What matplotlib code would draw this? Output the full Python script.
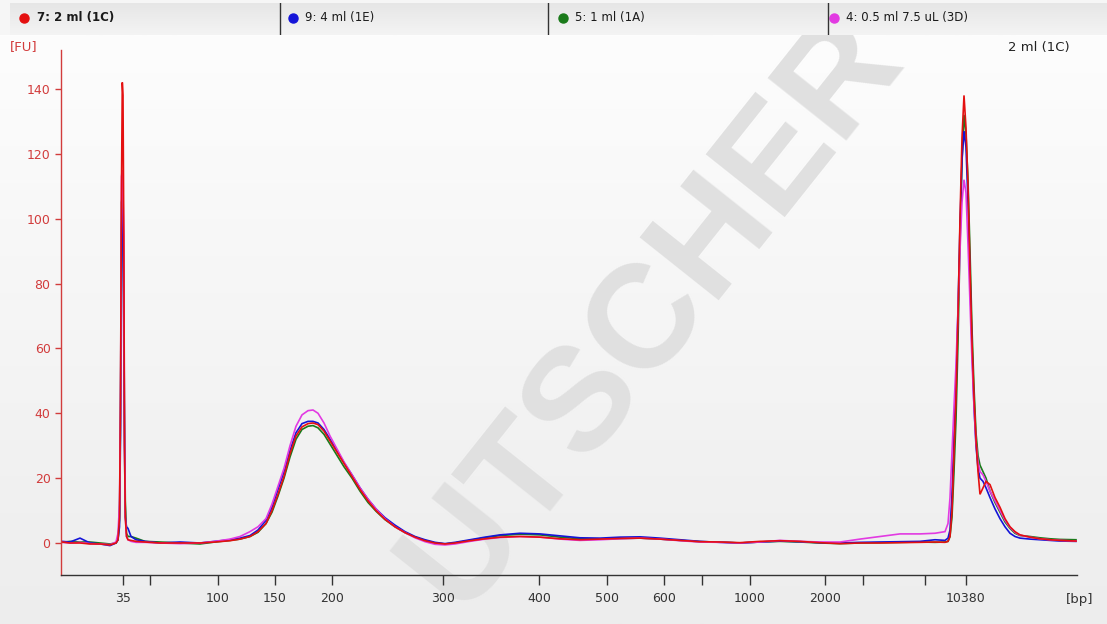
import numpy as np
import matplotlib
matplotlib.use("Agg")
import matplotlib.pyplot as plt
from matplotlib.colors import LinearSegmentedColormap

# ---------------- data ----------------
sample_names = ["7: 2 ml (1C)", "9: 4 ml (1E)", "5: 1 ml (1A)", "4: 0.5 ml 7.5 uL (3D)"]
sample_colors = ["#e41010", "#1414d8", "#1a7a1a", "#e23ae2"]

# ladder (bp) and its position on the migration axis
ladder_bp = [35, 50, 100, 150, 200, 300, 400, 500, 600, 700, 1000, 2000, 3000, 7000, 10380]
ladder_pos = [61.7, 89.3, 157.0, 214.0, 271.3, 382.3, 478.0, 546.3, 603.3, 640.7,
              688.7, 764.4, 802.0, 863.7, 904.5]
ladder_labels = ["35", "", "100", "150", "200", "300", "400", "500", "600", "",
                 "1000", "2000", "", "", "10380"]

# migration position of each sample point
migration = [1, 9, 19, 29, 39, 49, 55, 57, 58.5, 59.5, 60.5, 61.3, 62, 62.8, 63.5, 64.3,
             65.5, 67, 70, 75, 84, 99, 119, 139, 154, 169, 179, 189, 197, 205, 211, 217,
             223, 229, 235, 241, 247, 252, 257, 263, 269, 276, 283, 291, 299, 307, 315,
             324, 334, 344, 354, 364, 374, 384, 394, 409, 424, 439, 459, 479, 499, 519,
             539, 559, 579, 599, 619, 639, 659, 679, 699, 719, 739, 759, 779, 799, 819,
             839, 859, 874, 884, 887, 889, 891, 893, 895, 897, 899, 901, 903, 905, 907,
             909, 911, 913, 915, 917, 919, 922, 925, 929, 934, 939, 944, 949, 954, 959,
             969, 979, 989, 999, 1015]

fu_2ml_1C = [0.3, 0, 0, -0.3, -0.3, -0.6, 0, 1, 8, 45, 110, 142, 138, 95, 30, 8,
             2, 1, 0.8, 0.5, 0.3, 0, 0, 0, 0.3, 0.7, 1.2, 2, 3.5, 6, 10, 15,
             20.5, 27.5, 33, 35.8, 36.8, 37, 36.5, 34.5, 31.5, 28, 24.5, 20.5, 16.5, 13, 10,
             7.3, 5, 3.2, 1.8, 0.7, 0, -0.3, 0, 0.7, 1.3, 1.8, 2, 1.8, 1.3, 1.0,
             1.2, 1.4, 1.5, 1.2, 0.8, 0.4, 0.3, 0.1, 0.5, 0.7, 0.5, 0.1, -0.2, 0, 0,
             0.1, 0.2, 0.3, 0.2, 0.5, 2, 10, 28, 45, 70, 100, 125, 138, 128, 110,
             85, 62, 45, 32, 22, 15, 17, 19, 18, 14, 11, 7.5, 5, 3.5, 2.5,
             1.8, 1.3, 1, 0.8, 0.6]

fu_4ml_1E = [0.5, 0.3, 1.5, 0, -0.3, -0.8, 0, 1, 5, 33, 97, 103, 100, 60, 30, 8,
             5, 4.5, 2, 1, 0.5, 0, 0.3, 0, 0.5, 1, 1.5, 2.3, 4, 7, 11, 16.5,
             22, 28.5, 34, 36.8, 37.5, 37.5, 37, 35, 32, 28.5, 24.8, 21, 17, 13.5, 10.5,
             7.8, 5.5, 3.5, 2, 1, 0.2, -0.2, 0.2, 1, 1.8, 2.5, 3, 2.8, 2.2, 1.6,
             1.5, 1.8, 1.9, 1.5, 1, 0.5, 0.2, 0, 0.3, 0.6, 0.4, 0.1, 0, 0.2, 0.3,
             0.4, 0.5, 1, 0.8, 1.5, 4, 15, 33, 48, 72, 98, 118, 127, 122, 105,
             82, 60, 42, 30, 23, 20, 19, 17, 14, 10.5, 7.5, 5, 3, 2, 1.5,
             1.2, 1, 0.8, 0.6, 0.5]

fu_1ml_1A = [0.2, 0.5, 0.3, 0.3, 0, -0.3, 0, 1, 7, 40, 105, 107, 104, 70, 38, 13,
             3, 2, 2, 1.5, 0.5, 0.3, 0, -0.3, 0.3, 0.8, 1.2, 2, 3.3, 6, 9.5, 14.5,
             20, 26.5, 32, 35, 36, 36.2, 35.5, 33.5, 30.5, 27, 23.5, 20, 16, 12.5, 9.8,
             7.2, 5, 3.2, 1.8, 0.8, 0, -0.3, 0, 0.8, 1.6, 2.3, 2.7, 2.5, 1.8, 1.3,
             1.2, 1.4, 1.5, 1.2, 0.8, 0.4, 0.3, 0, 0.3, 0.5, 0.3, 0, -0.2, 0, 0.1,
             0.2, 0.3, 0.2, 0.3, 0.5, 2, 8, 22, 38, 62, 92, 118, 132, 126, 112,
             90, 66, 48, 34, 27, 24, 22, 20, 16, 12.5, 9.5, 6.5, 4.5, 3, 2.3,
             2, 1.6, 1.3, 1.1, 1]

fu_05ml_3D = [0.2, 0, 0.2, -0.2, -0.3, -0.5, 0.3, 3, 12, 40, 113, 115, 108, 95, 35, 8,
              2, 1, 0.5, 0.2, 0.2, 0, -0.2, 0, 0.5, 1.2, 2, 3.5, 5, 7.5, 12, 17.5,
              23, 30, 36, 39.5, 40.8, 41, 40, 37, 33, 29, 25, 21, 17, 13.5, 10.5,
              7.5, 5, 3.2, 1.6, 0.4, -0.4, -0.6, -0.3, 0.5, 1.2, 1.7, 2, 1.8, 1.2, 0.8,
              1, 1.3, 1.5, 1.2, 0.7, 0.3, 0.2, 0, 0.3, 0.8, 0.5, 0.3, 0.3, 1.2, 2,
              2.8, 2.8, 3, 3.5, 6, 14, 28, 42, 55, 72, 90, 105, 112, 108, 92,
              74, 56, 42, 31, 25, 22, 21, 19, 16, 13, 10, 7, 4.8, 3.3, 2.4,
              1.8, 1.3, 1, 0.8, 0.6]

series = [fu_2ml_1C, fu_4ml_1E, fu_1ml_1A, fu_05ml_3D]
draw_order = [2, 1, 3, 0]

y_ticks = [0, 20, 40, 60, 80, 100, 120, 140]

# ---------------- figure ----------------
W, H = 1107, 624
fig = plt.figure(figsize=(W / 100, H / 100), dpi=100)
fig.patch.set_facecolor("#f6f6f6")

# gradient panel behind the plot
ax_bg = fig.add_axes([0, 0, 1, (H - 35) / H], zorder=0)
grad = np.linspace(0, 1, 256).reshape(-1, 1)
cmap = LinearSegmentedColormap.from_list("bg", ["#ededed", "#fdfdfd"])
ax_bg.imshow(grad, aspect="auto", extent=[0, 1, 0, 1], origin="lower", cmap=cmap)
ax_bg.set_xlim(0, 1)
ax_bg.set_ylim(0, 1)
ax_bg.axis("off")
wm = ax_bg.text(652 / W, 1 - (312 - 35) / (H - 35), "UTSCHER", transform=ax_bg.transAxes,
                fontsize=106, fontweight="bold", family="Liberation Sans",
                color="#e0e0e0", rotation=51.5, rotation_mode="anchor",
                ha="center", va="center")
wm.set_clip_on(True)
wm.set_clip_box(ax_bg.bbox)

# main axes
ax = fig.add_axes([61 / W, (H - 575) / H, 1016 / W, 525 / H], zorder=1)
ax.patch.set_alpha(0)
for i in draw_order:
    ax.plot(migration, series[i], color=sample_colors[i], lw=1.2, solid_joinstyle="miter")

ax.set_xlim(0, 1016)
ax.set_ylim(-9.87, 152)
ax.set_xticks(ladder_pos)
ax.set_xticklabels(ladder_labels)
ax.set_yticks(y_ticks)
ax.set_yticklabels([str(v) for v in y_ticks])

red_axis = "#d23c3c"
for s in ["top", "right"]:
    ax.spines[s].set_visible(False)
ax.spines["left"].set_color(red_axis)
ax.spines["left"].set_linewidth(1.0)
ax.spines["bottom"].set_color("#333333")
ax.spines["bottom"].set_linewidth(1.0)
ax.tick_params(axis="x", direction="out", length=7.5, width=1, color="#333333",
               labelcolor="#333333", labelsize=9, pad=5)
ax.tick_params(axis="y", direction="out", length=4.5, width=1, color=red_axis,
               labelcolor=red_axis, labelsize=9, pad=3)

fig.text(10 / W, 1 - 47 / H, "[FU]", color=red_axis, fontsize=9.5, ha="left", va="center")
fig.text(1070 / W, 1 - 47 / H, "2 ml (1C)", color="#222222", fontsize=9.5, ha="right", va="center")
fig.text(1093 / W, 1 - 600 / H, "[bp]", color="#333333", fontsize=9.5, ha="right", va="center")

# legend bar at the top
ax_lg = fig.add_axes([10 / W, 1 - 35 / H, 1 - 10 / W, 32 / H], zorder=2)
cmap2 = LinearSegmentedColormap.from_list("lg", ["#e6e6e6", "#f4f4f4"])
ax_lg.imshow(grad, aspect="auto", extent=[10, W, 35, 3], origin="upper", cmap=cmap2)
ax_lg.set_xlim(10, W)
ax_lg.set_ylim(35, 3)
ax_lg.axis("off")
dot_x = [24, 293, 563, 834]
text_x = [37, 305, 575, 846]
sep_x = [280, 548, 828]
for i in range(4):
    ax_lg.plot([dot_x[i]], [18], marker="o", ms=6.5, color=sample_colors[i], mec=sample_colors[i])
    ax_lg.text(text_x[i], 18, sample_names[i], fontsize=8.5, color="#1a1a1a",
               fontweight="bold" if i == 0 else "normal", ha="left", va="center")
for sx in sep_x:
    ax_lg.plot([sx, sx], [3, 35], color="#333333", lw=1.0)

fig.savefig("out.png", dpi=100, facecolor=fig.get_facecolor())
